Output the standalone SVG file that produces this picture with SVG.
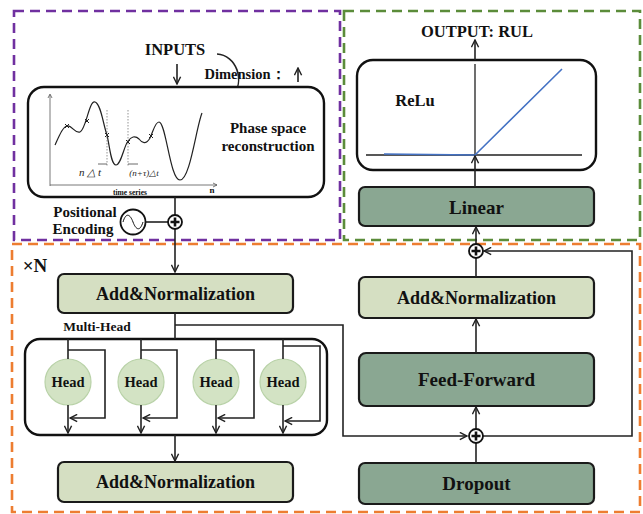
<svg xmlns="http://www.w3.org/2000/svg" width="643" height="514" viewBox="0 0 643 514">
  <defs>
    <style>
      .t { font-family: "Liberation Serif", "Times New Roman", serif; font-weight: bold; fill: #111; text-anchor: middle; }
      .ln { fill: none; stroke: #222; stroke-width: 1.6; }
      .frame { fill: none; stroke-width: 2.6; stroke-dasharray: 10 6; }
      .box { stroke: #1a1a1a; stroke-width: 2.2; }
      .light { fill: #d5dfc2; }
      .dark { fill: #8aa792; }
      .panel { fill: #fff; stroke: #111; stroke-width: 2.4; }
      .head { fill: #d3e3c4; stroke: #b9d2a8; stroke-width: 1.2; }
      .plus { fill: #fff; stroke: #111; stroke-width: 1.8; }
    </style>
    <marker id="arr" viewBox="0 0 10 10" refX="9" refY="5" markerWidth="9" markerHeight="9" markerUnits="userSpaceOnUse" orient="auto">
      <path d="M1,1 L9,5 L1,9" fill="none" stroke="#222" stroke-width="1.6"/>
    </marker>
    <g id="plusSym">
      <circle r="7" class="plus"/>
      <path d="M-4.5,0 H4.5 M0,-4.5 V4.5" stroke="#111" stroke-width="2.6"/>
    </g>
  </defs>

  <rect width="643" height="514" fill="#fff"/>

  <!-- section frames -->
  <rect x="14" y="11" width="326" height="229" class="frame" stroke="#7030a0"/>
  <rect x="344" y="11" width="296" height="229" class="frame" stroke="#5b8c3a"/>
  <rect x="12" y="244" width="628" height="268" class="frame" stroke="#ed7d31"/>

  <!-- input side: phase space reconstruction -->
  <g id="inputs">
    <text x="175" y="55" class="t" font-size="16.500">INPUTS</text>
    <text x="245" y="79" class="t" font-size="14.500">Dimension：</text>
    <path d="M298,82 V68" class="ln" marker-end="url(#arr)"/>
    <path d="M217,54 C236,55 246,80 232,98" class="ln" marker-end="url(#arr)"/>
  </g>

  <g id="phase-space">
    <rect x="28" y="87" width="296" height="110" rx="16" class="panel"/>
    <!-- axes -->
    <path d="M50,186 V95 M50,185 H217" fill="none" stroke="#555" stroke-width="0.8"/>
    <path d="M48,98 L50,94 L52,98 M213,183 L217,185 L213,187" fill="none" stroke="#555" stroke-width="0.8"/>
    <!-- signal -->
    <path d="M55,145 C60,134 63,127 67,126 C72,125 75,134 80,132 C86,130 89,100 95,102 C101,104 103,124 107,135 C110,148 111,165 116,165 C121,165 124,146 128,141 C131,137 135,135 139,139 C142,143 146,145 150,138 C153,132 155,122 159,122 C166,122 170,180 180,180 C190,180 196,128 202,113" fill="none" stroke="#222" stroke-width="1.2"/>
    <g stroke="#222" stroke-width="1">
      <path d="M65,124 l4,4 M69,124 l-4,4"/>
      <path d="M85,119 l4,4 M89,119 l-4,4"/>
      <path d="M105,133 l4,4 M109,133 l-4,4"/>
      <path d="M126,140 l4,4 M130,140 l-4,4"/>
      <path d="M149,134 l4,4 M153,134 l-4,4"/>
    </g>
    <path d="M107,110 V166 M128,110 V167" stroke="#666" stroke-width="0.7" stroke-dasharray="1.5 1.5"/>
    <path d="M98,164 H107 M128,164 H138" stroke="#444" stroke-width="0.8"/>
    <text x="90" y="176" font-family="Liberation Serif, serif" font-style="italic" font-size="11" text-anchor="middle" fill="#222">n △ t</text>
    <text x="144" y="176" font-family="Liberation Serif, serif" font-style="italic" font-size="9" text-anchor="middle" fill="#222">(n+τ)△t</text>
    <text x="130" y="195" class="t" font-size="7.5">time series</text>
    <text x="212" y="193" class="t" font-size="9">n</text>
    <text x="268" y="133" class="t" font-size="15">Phase space</text>
    <text x="268" y="151" class="t" font-size="15">reconstruction</text>
  </g>

  <g id="positional-encoding">
    <text x="85" y="217" class="t" font-size="15">Positional</text>
    <text x="83" y="234" class="t" font-size="15">Encoding</text>
    <circle cx="133" cy="222" r="12.5" fill="#fff" stroke="#111" stroke-width="1.8"/>
    <path d="M123,222 C126,212 130,214 133,222 C136,230 140,232 143,222" fill="none" stroke="#111" stroke-width="1"/>
  </g>

  <!-- encoder block -->
  <text x="35" y="272" class="t" font-size="19">×N</text>

  <g id="add-norm-1">
    <rect x="58" y="274" width="235" height="39" rx="6" class="box light"/>
    <text x="175.500" y="300" class="t" font-size="18">Add&amp;Normalization</text>
  </g>

  <text x="97" y="331" class="t" font-size="13.500">Multi-Head</text>

  <g id="multi-head">
    <rect x="25" y="339" width="302" height="96" rx="15" class="panel"/>
  </g>
  <g id="head-1">
    <circle cx="68" cy="382" r="23" class="head"/>
    <text x="68" y="387" class="t" font-size="14.500">Head</text>
  </g>
  <g id="head-2">
    <circle cx="141" cy="382" r="23" class="head"/>
    <text x="141" y="387" class="t" font-size="14.500">Head</text>
  </g>
  <g id="head-3">
    <circle cx="216" cy="382" r="23" class="head"/>
    <text x="216" y="387" class="t" font-size="14.500">Head</text>
  </g>
  <g id="head-4">
    <circle cx="283" cy="382" r="23" class="head"/>
    <text x="283" y="387" class="t" font-size="14.500">Head</text>
  </g>

  <g id="add-norm-2">
    <rect x="58" y="462" width="235" height="40" rx="6" class="box light"/>
    <text x="175.500" y="488" class="t" font-size="18">Add&amp;Normalization</text>
  </g>

  <!-- feed-forward side -->
  <g id="dropout">
    <rect x="359" y="463" width="235" height="41" rx="6" class="box dark"/>
    <text x="476.500" y="490" class="t" font-size="19">Dropout</text>
  </g>
  <g id="feed-forward">
    <rect x="359" y="353" width="235" height="53" rx="7" class="box dark"/>
    <text x="476.500" y="386" class="t" font-size="19">Feed-Forward</text>
  </g>
  <g id="add-norm-3">
    <rect x="359" y="277" width="235" height="41" rx="6" class="box light"/>
    <text x="476.500" y="304" class="t" font-size="18">Add&amp;Normalization</text>
  </g>
  <g id="linear">
    <rect x="359" y="187" width="235" height="39" rx="6" class="box dark"/>
    <text x="476.500" y="214" class="t" font-size="19">Linear</text>
  </g>

  <g id="relu">
    <rect x="357" y="60" width="239" height="110" rx="16" class="panel"/>
    <path d="M366,155 H582 M475,64 V155" stroke="#222" stroke-width="1.3"/>
    <path d="M384,154 L475,155 L562,69" fill="none" stroke="#4472c4" stroke-width="1.6"/>
    <text x="415" y="106" class="t" font-size="16.500">ReLu</text>
  </g>

  <g id="output">
    <text x="477" y="37" class="t" font-size="16.500">OUTPUT: RUL</text>
  </g>

  <!-- connectors -->
  <g id="connectors">
    <path d="M177,64 V84" class="ln" marker-end="url(#arr)"/>
    <path d="M175,197 V272" class="ln" marker-end="url(#arr)"/>
    <path d="M145.500,222 H168" class="ln"/>
    <path d="M175,313 V339" class="ln"/>
    <path d="M175,325 H343 V436 H467" class="ln" marker-end="url(#arr)"/>

    <!-- head branches with residual bypass -->
    <path d="M68,339 V359 M68,405 V433" class="ln" marker-end="url(#arr)"/>
    <path d="M68,350 H105 V418 H70" class="ln" marker-end="url(#arr)"/>
    <path d="M141,339 V359 M141,405 V433" class="ln" marker-end="url(#arr)"/>
    <path d="M141,350 H177 V418 H143" class="ln" marker-end="url(#arr)"/>
    <path d="M216,339 V359 M216,405 V433" class="ln" marker-end="url(#arr)"/>
    <path d="M216,350 H254 V418 H218" class="ln" marker-end="url(#arr)"/>
    <path d="M283,339 V359 M283,405 V433" class="ln" marker-end="url(#arr)"/>
    <path d="M283,346 H320 V421 H285" class="ln" marker-end="url(#arr)"/>

    <path d="M175,435 V461" class="ln" marker-end="url(#arr)"/>

    <path d="M476,463 V443" class="ln"/>
    <path d="M476,429 V407" class="ln" marker-end="url(#arr)"/>
    <path d="M483,436 H632 V251 H484" class="ln" marker-end="url(#arr)"/>
    <path d="M476,353 V319" class="ln" marker-end="url(#arr)"/>
    <path d="M476,277 V258" class="ln"/>
    <path d="M476,244 V227" class="ln" marker-end="url(#arr)"/>
    <path d="M475,187 V156" class="ln" marker-end="url(#arr)"/>
    <path d="M475,60 V40" class="ln" marker-end="url(#arr)"/>

    <use href="#plusSym" x="175" y="222"/>
    <use href="#plusSym" x="476" y="436"/>
    <use href="#plusSym" x="476" y="251"/>
  </g>
</svg>
